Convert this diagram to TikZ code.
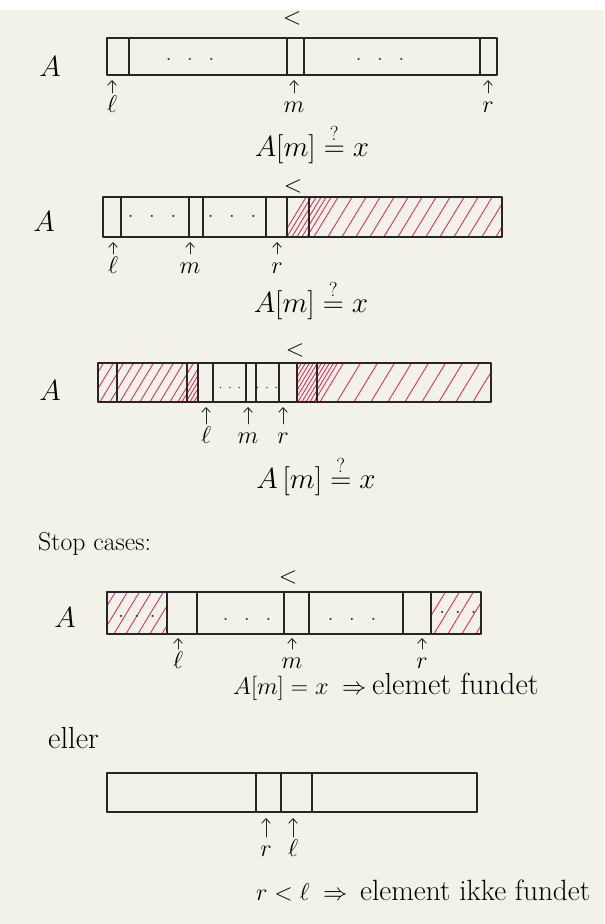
\documentclass[tikz,border=0pt]{standalone}
\usepackage{amsmath,amssymb}
\usetikzlibrary{arrows.meta,calc}

\definecolor{paper}{RGB}{243,242,233}
\definecolor{hatchred}{RGB}{222,45,92}
\tikzset{
  cell/.style={line width=1.1pt, black!85},
  hatch/.style={hatchred, line width=0.75pt},
  ptr/.style={-{Straight Barb[length=1.4mm,width=2.6mm]}, line width=0.75pt, black!85},
  idx/.style={font=\fontsize{21}{24}\selectfont, inner sep=0pt, anchor=base, text height=16pt},
  arr/.style={font=\fontsize{23}{26}\selectfont, inner sep=0pt},
  eqn/.style={font=\fontsize{23}{28}\selectfont, inner sep=0pt, anchor=base},
  note/.style={font=\fontsize{26}{30}\selectfont, inner sep=0pt, anchor=base west},
  gap/.style={font=\fontsize{16}{18}\selectfont, inner sep=0pt, black!80},
  less/.style={font=\fontsize{20}{22}\selectfont, inner sep=0pt}
}

\begin{document}
\begin{tikzpicture}[x=0.03cm, y=-0.03cm, line cap=round, line join=round]
  \useasboundingbox (0,0) rectangle (604,924);
  \fill[white] (0,0) rectangle (604,10);
  \fill[paper] (0,10) rectangle (604,924);

  % first split
  \draw[cell] (107,38) rectangle (497,75);
  \foreach \xx in {129,287,304,480} \draw[cell] (\xx,38) -- (\xx,75);
  \node[arr] (A1) at (50,67) {$A$};
  \node[less] (lt1) at (292,18) {$<$};
  \node[gap] (d1a) at (190,60) {$\cdot\;\;\cdot\;\;\cdot$};
  \node[gap] (d1b) at (380,60) {$\cdot\;\;\cdot\;\;\cdot$};
  \foreach \nm/\xx/\tx in {l1/112/\ell, m1/294/m, r1/488/r} {
    \node[idx] (\nm) at (\xx,112) {$\tx$};
    \coordinate (t\nm) at (\xx,80);
    \draw[ptr] (\nm.north) -- (t\nm);
  }
  \node[eqn] (eq1) at (312,156) {$A[m] \overset{?}{=} x$};

  % right half discarded
  \begin{scope}
    \clip (287,197) rectangle (502,237);
    \foreach \xx in {280,285,...,305} \draw[hatch] (\xx,240) -- ++(28,-46);
    \foreach \xx in {312,326,...,500} \draw[hatch] (\xx,240) -- ++(28,-46);
  \end{scope}
  \draw[cell] (103,197) rectangle (502,237);
  \foreach \xx in {121,189,203,266,287,309} \draw[cell] (\xx,197) -- (\xx,237);
  \node[arr] (A2) at (44,222) {$A$};
  \node[less] (lt2) at (293,186) {$<$};
  \node[gap] (d2a) at (152,217) {$\cdot\;\;\cdot\;\;\cdot$};
  \node[gap] (d2b) at (232,217) {$\cdot\;\;\cdot\;\;\cdot$};
  \foreach \nm/\xx/\tx in {l2/113/\ell, m2/190/m, r2/277/r} {
    \node[idx] (\nm) at (\xx,273) {$\tx$};
    \coordinate (t\nm) at (\xx,242);
    \draw[ptr] (\nm.north) -- (t\nm);
  }
  \node[eqn] (eq2) at (311,312) {$A[m] \overset{?}{=} x$};

  % both ends discarded
  \begin{scope}
    \clip (98,363) rectangle (198,402);
    \foreach \xx in {78,88,...,170} \draw[hatch] (\xx,405) -- ++(28,-46);
    \foreach \xx in {176,180,...,196} \draw[hatch] (\xx,405) -- ++(28,-46);
  \end{scope}
  \begin{scope}
    \clip (297,363) rectangle (491,402);
    \foreach \xx in {272,276,...,312} \draw[hatch] (\xx,405) -- ++(28,-46);
    \foreach \xx in {318,335,...,490} \draw[hatch] (\xx,405) -- ++(28,-46);
  \end{scope}
  \draw[cell] (98,363) rectangle (491,402);
  \foreach \xx in {117,187,198,213,246,256,279,297,317} \draw[cell] (\xx,363) -- (\xx,402);
  \node[arr] (A3) at (50,391) {$A$};
  \node[less] (lt3) at (295,350) {$<$};
  \node[gap, font=\fontsize{12}{14}\selectfont] (d3a) at (230,388) {$\cdot\,\cdot\,\cdot$};
  \node[gap, font=\fontsize{12}{14}\selectfont] (d3b) at (267,388) {$\cdot\,\cdot\,\cdot$};
  \foreach \nm/\xx/\tx in {l3/206/\ell, m3/248/m, r3/283/r} {
    \node[idx] (\nm) at (\xx,443) {$\tx$};
    \coordinate (t\nm) at (\xx,407);
    \draw[ptr] (\nm.north) -- (t\nm);
  }
  \node[eqn] (eq3) at (316,488) {$A\,[m] \overset{?}{=} x$};

  \node[note, font=\fontsize{22}{26}\selectfont] (stop) at (38,550) {Stop cases:};

  % found
  \begin{scope}
    \clip (107,592) rectangle (167,634);
    \foreach \xx in {88,100,...,170} \draw[hatch] (\xx,637) -- ++(28,-46);
  \end{scope}
  \begin{scope}
    \clip (431,592) rectangle (481,634);
    \foreach \xx in {418,432,...,490} \draw[hatch] (\xx,637) -- ++(28,-46);
  \end{scope}
  \draw[cell] (107,592) rectangle (481,634);
  \foreach \xx in {167,197,284,309,403,431} \draw[cell] (\xx,592) -- (\xx,634);
  \node[arr] (A4) at (65,618) {$A$};
  \node[less] (lt4) at (288,577) {$<$};
  \node[gap] (d4a) at (137,617) {$\cdot\;\cdot\;\cdot$};
  \node[gap] (d4b) at (247,620) {$\cdot\;\;\cdot\;\;\cdot$};
  \node[gap] (d4c) at (352,620) {$\cdot\;\;\cdot\;\;\cdot$};
  \node[gap] (d4d) at (458,613) {$\cdot\;\cdot\;\cdot$};
  \foreach \nm/\xx/\tx in {l4/178/\ell, m4/292/m, r4/422/r} {
    \node[idx] (\nm) at (\xx,668) {$\tx$};
    \coordinate (t\nm) at (\xx,638);
    \draw[ptr] (\nm.north) -- (t\nm);
  }
  \node[note, font=\fontsize{21}{24}\selectfont] (eq4) at (233,694) {$A[m] = x \;\Rightarrow$};
  \node[note] (res4) at (372,694) {elemet fundet};

  \node[note] (or) at (48,748) {eller};

  % not found
  \draw[cell] (107,773) rectangle (477,812);
  \foreach \xx in {256,281,312} \draw[cell] (\xx,773) -- (\xx,812);
  \foreach \nm/\xx/\tx in {r5/266/r, l5/293/\ell} {
    \node[idx] (\nm) at (\xx,856) {$\tx$};
    \coordinate (t\nm) at (\xx,818);
    \draw[ptr] (\nm.north) -- (t\nm);
  }
  \node[note, font=\fontsize{21}{24}\selectfont] (eq5) at (256,900) {$r < \ell \;\Rightarrow$};
  \node[note, font=\fontsize{25}{30}\selectfont] (res5) at (360,900) {element ikke fundet};
\end{tikzpicture}
\end{document}
